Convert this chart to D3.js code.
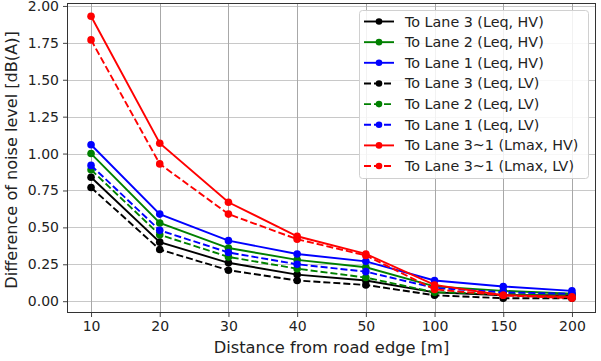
<!DOCTYPE html>
<html>
<head>
<meta charset="utf-8">
<script src="https://cdn.jsdelivr.net/npm/d3@7"></script>
<style>
  html, body { margin: 0; padding: 0; background: #fff; }
  text { font-family: "DejaVu Sans", sans-serif; }
</style>
</head>
<body>
<svg id="chart" width="601" height="361"></svg>
<script>
// ---- data ----
const distances = ["10", "20", "30", "40", "50", "100", "150", "200"];
const yTicks = [0, 0.25, 0.5, 0.75, 1.0, 1.25, 1.5, 1.75, 2.0];

const leqHV3 = [0.84, 0.40, 0.26, 0.18, 0.14, 0.06, 0.04, 0.04];
const leqHV2 = [1.00, 0.53, 0.36, 0.28, 0.23, 0.10, 0.07, 0.05];
const leqHV1 = [1.06, 0.59, 0.41, 0.32, 0.27, 0.14, 0.10, 0.07];
const leqLV3 = [0.77, 0.35, 0.21, 0.14, 0.11, 0.04, 0.02, 0.02];
const leqLV2 = [0.89, 0.45, 0.30, 0.22, 0.16, 0.06, 0.05, 0.04];
const leqLV1 = [0.92, 0.48, 0.33, 0.25, 0.20, 0.09, 0.06, 0.05];
const lmaxHV = [1.93, 1.07, 0.67, 0.44, 0.32, 0.11, 0.04, 0.03];
const lmaxLV = [1.77, 0.93, 0.59, 0.42, 0.31, 0.08, 0.04, 0.02];

const seriesNames = [
  "To Lane 3 (Leq, HV)", "To Lane 2 (Leq, HV)", "To Lane 1 (Leq, HV)",
  "To Lane 3 (Leq, LV)", "To Lane 2 (Leq, LV)", "To Lane 1 (Leq, LV)",
  "To Lane 3~1 (Lmax, HV)", "To Lane 3~1 (Lmax, LV)"
];
const seriesValues = [leqHV3, leqHV2, leqHV1, leqLV3, leqLV2, leqLV1, lmaxHV, lmaxLV];
const seriesColors = ["#000000", "#008000", "#0000ff", "#000000", "#008000", "#0000ff", "#ff0000", "#ff0000"];
const seriesDashed = [false, false, false, true, true, true, false, true];

// ---- layout ----
const W = 601, H = 361;
const m = { left: 67, right: 5, top: 3, bottom: 48 };
const svg = d3.select("#chart");

const x = d3.scalePoint().domain(distances).range([m.left, W - m.right]).padding(0.35);
const y = d3.scaleLinear().domain([-0.08, 2.02]).range([H - m.bottom, m.top]);

// grid
const grid = svg.append("g");
grid.selectAll("line.h").data(yTicks).join("line")
  .attr("x1", m.left).attr("x2", W - m.right)
  .attr("y1", d => Math.round(y(d)) + 0.5).attr("y2", d => Math.round(y(d)) + 0.5)
  .attr("stroke", "#c8c8c8").attr("stroke-width", 1);
grid.selectAll("line.v").data(distances).join("line")
  .attr("y1", m.top).attr("y2", H - m.bottom)
  .attr("x1", d => Math.round(x(d)) + 0.5).attr("x2", d => Math.round(x(d)) + 0.5)
  .attr("stroke", "#a8a8a8").attr("stroke-width", 1);

// axes
const xAxis = svg.append("g")
  .attr("transform", `translate(0,${H - m.bottom})`)
  .call(d3.axisBottom(x).tickSize(4).tickPadding(4));
const yAxis = svg.append("g")
  .attr("transform", `translate(${m.left},0)`)
  .call(d3.axisLeft(y).tickValues(yTicks).tickFormat(d3.format(".2f")).tickSize(4).tickPadding(4));
[xAxis, yAxis].forEach(a => {
  a.select(".domain").remove();
  a.selectAll("text").attr("font-size", 14).attr("fill", "#222").attr("font-family", "DejaVu Sans, sans-serif");
  a.selectAll("line").attr("stroke", "#444");
});

// spines
svg.append("rect")
  .attr("x", m.left + 0.5).attr("y", m.top + 0.5)
  .attr("width", W - m.left - m.right - 1).attr("height", H - m.top - m.bottom - 1)
  .attr("fill", "none").attr("stroke", "#333").attr("stroke-width", 1);

// lines
const line = d3.line().x((d, i) => x(distances[i])).y(d => y(d));
const plot = svg.append("g");
seriesValues.forEach((vals, k) => {
  const g = plot.append("g");
  g.append("path").datum(vals)
    .attr("d", line).attr("fill", "none")
    .attr("stroke", seriesColors[k]).attr("stroke-width", 1.9)
    .attr("stroke-dasharray", seriesDashed[k] ? "7,3" : null);
  g.selectAll("circle").data(vals).join("circle")
    .attr("cx", (d, i) => x(distances[i])).attr("cy", d => y(d))
    .attr("r", 3.8).attr("fill", seriesColors[k]);
});

// axis labels
svg.append("text")
  .attr("x", (m.left + W - m.right) / 2).attr("y", 353)
  .attr("text-anchor", "middle").attr("font-size", 16.3).attr("fill", "#222")
  .text("Distance from road edge [m]");
svg.append("text")
  .attr("transform", `translate(17,${(m.top + H - m.bottom) / 2 + 2}) rotate(-90)`)
  .attr("text-anchor", "middle").attr("font-size", 16.1).attr("fill", "#222")
  .text("Difference of noise level [dB(A)]");

// legend
const lg = svg.append("g");
lg.append("rect")
  .attr("x", 359.5).attr("y", 10.5).attr("width", 229).attr("height", 168).attr("rx", 3)
  .attr("fill", "#fff").attr("fill-opacity", 0.85).attr("stroke", "#d0d0d0");
seriesNames.forEach((name, k) => {
  const yy = 21.5 + k * 20.65;
  lg.append("line").attr("x1", 364).attr("x2", 394).attr("y1", yy).attr("y2", yy)
    .attr("stroke", seriesColors[k]).attr("stroke-width", 1.9)
    .attr("stroke-dasharray", seriesDashed[k] ? "7,3" : null);
  lg.append("circle").attr("cx", 379).attr("cy", yy).attr("r", 3.3).attr("fill", seriesColors[k]);
  lg.append("text").attr("x", 405).attr("y", yy).attr("dy", "0.35em")
    .attr("font-size", 14.3).attr("fill", "#222").text(name);
});
</script>
</body>
</html>
